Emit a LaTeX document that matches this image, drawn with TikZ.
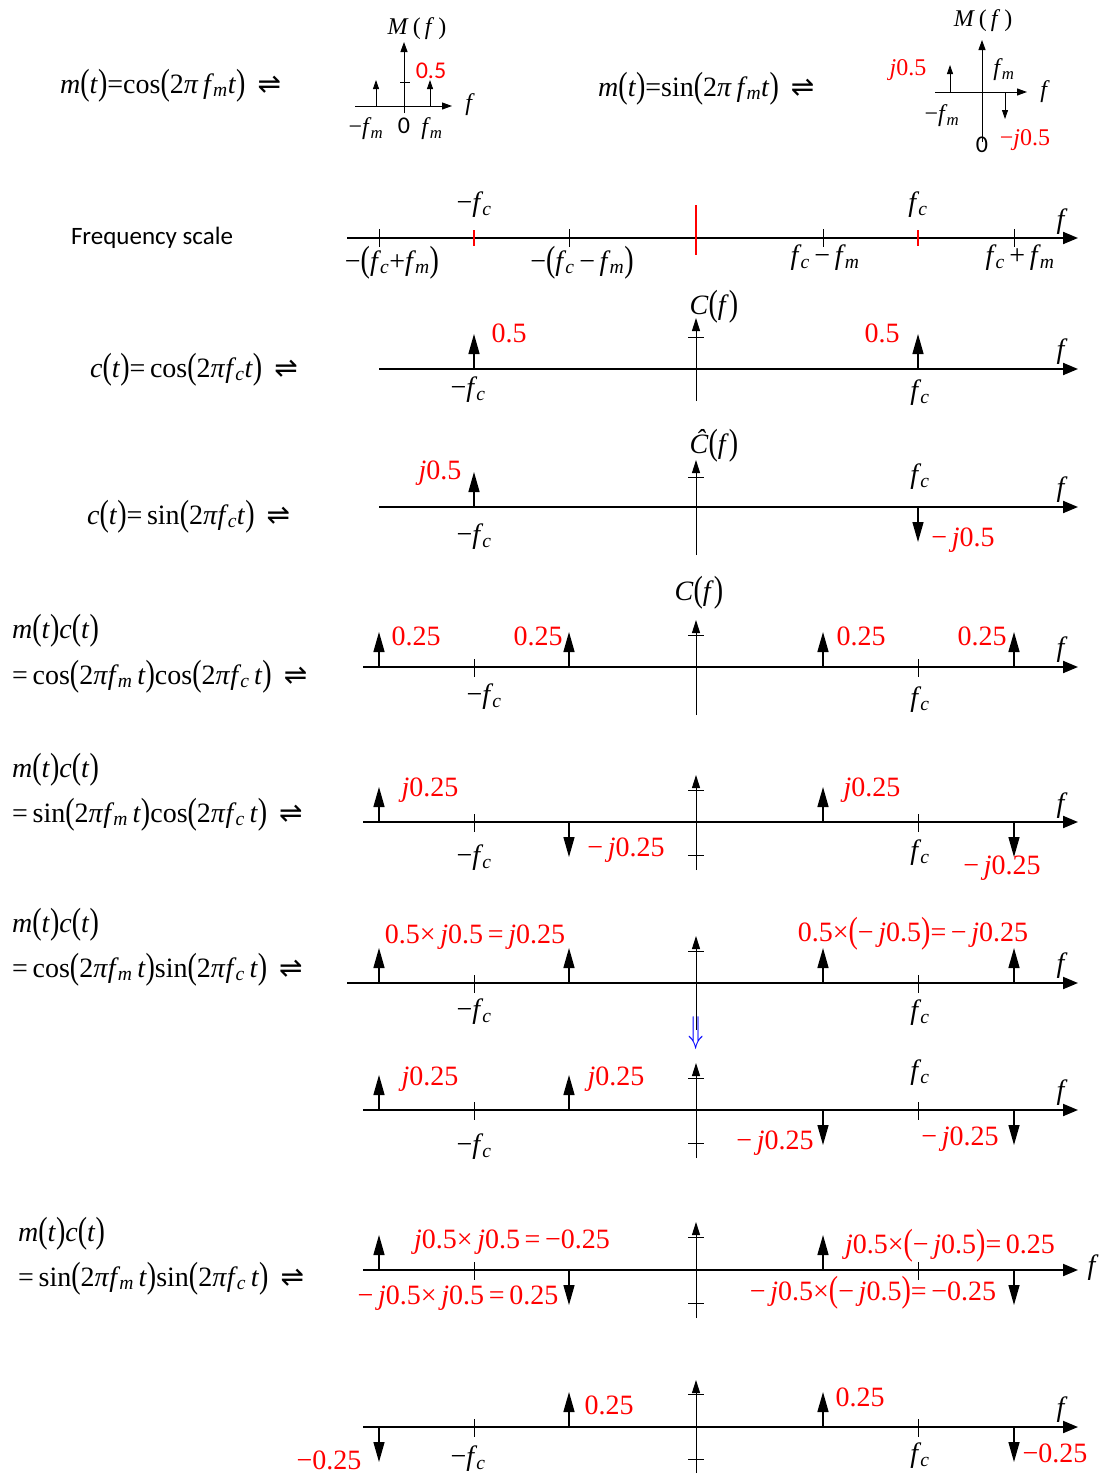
\documentclass[tikz,border=0pt]{standalone}
\usepackage{graphicx}
\usepackage{fontspec}
\setmainfont{Liberation Serif}
\newfontfamily\plainserif{Liberation Serif}
\newfontfamily\sansf{Carlito}
\newfontfamily\dejavu{DejaVu Sans}
\usetikzlibrary{arrows.meta}
\newcommand\V[1]{\textit{#1}}
\newcommand\Sb[1]{\textsubscript{\textit{#1}}}
\newcommand\fc{\V{f}\kern-1pt\Sb{c}}
\newcommand\fmm{\V{f}\kern-1pt\Sb{m}}
\newcommand\Lp{\raisebox{-0.12ex}{\scalebox{1}[1.3]{(}}}
\newcommand\Rp{\raisebox{-0.12ex}{\scalebox{1}[1.3]{)}}}
\newcommand\mi{−}
\newcommand\lrh{\hspace{12pt}{\dejavu ⇌}}
\begin{document}
\begin{tikzpicture}[x=1pt,y=-1pt,
  lab/.style={font=\fontsize{28}{32}\selectfont, inner sep=0pt},
  small/.style={font=\plainserif\fontsize{24}{28}\selectfont, inner sep=0pt},
  rl/.style={lab, text=red},
  axisln/.style={line width=2pt, -{Triangle[length=15pt,width=12pt]}},
  imp/.style={line width=1.4pt, -{Triangle[length=20pt,width=11pt]}},
  vax/.style={line width=1pt, -{Triangle[length=13pt,width=8pt]}},
  sax/.style={line width=1pt, -{Triangle[length=10pt,width=7pt]}},
  simp/.style={line width=0.8pt, -{Triangle[length=9pt,width=6pt]}},
  tk/.style={line width=1pt}
]
\useasboundingbox (0,0) rectangle (1102,1475);

% ---------- top row ----------
\node[lab, anchor=west] (eqA) at (60,86) {\V{m}\Lp\V{t}\Rp=cos\Lp2\V{π}\,\fmm\V{t}\Rp\lrh};
\draw[sax] (355,106) -- (452,106);
\draw[sax] (404,113) -- (404,42);
\draw[tk] (400,82) -- (410,82);
\draw[simp] (376,106) -- (376,80);
\draw[simp] (430,106) -- (430,80);
\node[small] (MA) at (417,29) {\V{M}\,(\,\V{f}\,)};
\node[small, font=\sansf\fontsize{24}{28}\selectfont, text=red] (hA) at (431,71) {0.5};
\node[small] (fA) at (470,105) {\V{f}};
\node[small] (nfmA) at (366,129) {\mi\fmm};
\node[small, font=\sansf\fontsize{24}{28}\selectfont] (zA) at (404,126) {0};
\node[small] (fmA) at (432,129) {\fmm};

\node[lab, anchor=west] (eqB) at (598,89) {\V{m}\Lp\V{t}\Rp=sin\Lp2\V{π}\,\fmm\V{t}\Rp\lrh};
\draw[sax] (935,92) -- (1027,92);
\draw[sax] (982,142) -- (982,40);
\draw[simp] (950,92) -- (950,65);
\draw[simp] (1005,92) -- (1005,119);
\node[small] (MB) at (983,21) {\V{M}\,(\,\V{f}\,)};
\node[small, text=red] (hB) at (908,70) {\V{j}0.5};
\node[small] (fmB) at (1004,70) {\fmm};
\node[small] (fB) at (1045,92) {\V{f}};
\node[small] (nfmB) at (942,116) {\mi\fmm};
\node[small, font=\sansf\fontsize{24}{28}\selectfont] (zB) at (982,145) {0};
\node[small, text=red] (nhB) at (1025,140) {\mi\V{j}0.5};

% ---------- frequency scale ----------
\node[inner sep=0pt, font=\sansf\fontsize{25}{30}\selectfont] (fs) at (152,238) {Frequency scale};
\draw[axisln] (347,238) -- (1078,238);
\foreach \x in {379,569,823,1014} \draw[tk] (\x,229) -- (\x,247);
\foreach \x in {474,918} \draw[line width=1.6pt, red] (\x,230) -- (\x,246);
\draw[line width=2.2pt, red] (696,205) -- (696,255);
\node[lab] (s1) at (474,205) {\mi\fc};
\node[lab] (s2) at (918,205) {\fc};
\node[lab] (s3) at (1062,222) {\V{f}};
\node[lab] (s4) at (392,263) {\mi\Lp\fc+\fmm\Rp};
\node[lab] (s5) at (582,263) {\mi\Lp\fc\,\mi\,\fmm\Rp};
\node[lab] (s6) at (825,258) {\fc\,\mi\,\fmm};
\node[lab] (s7) at (1020,258) {\fc\,+\,\fmm};

% ---------- c(t)=cos ----------
\node[lab, anchor=west] (eqC) at (90,370) {\V{c}\Lp\V{t}\Rp=\,cos\Lp2\V{π}\fc\V{t}\Rp\lrh};
\draw[axisln] (379,369) -- (1078,369);
\draw[vax] (696,401) -- (696,318);
\draw[tk] (688,337) -- (704,337);
\draw[imp] (474,369) -- (474,334);
\draw[imp] (918,369) -- (918,334);
\node[rl] (c1) at (509,333) {0.5};
\node[rl] (c2) at (882,333) {0.5};
\node[lab] (c3) at (714,307) {\V{C}\Lp\V{f}\Rp};
\node[lab] (c4) at (468,390) {\mi\fc};
\node[lab] (c5) at (920,393) {\fc};
\node[lab] (c6) at (1062,352) {\V{f}};

% ---------- c(t)=sin ----------
\node[lab, anchor=west] (eqD) at (87,517) {\V{c}\Lp\V{t}\Rp=\,sin\Lp2\V{π}\fc\V{t}\Rp\lrh};
\draw[axisln] (379,507) -- (1078,507);
\draw[vax] (696,555) -- (696,460);
\draw[tk] (688,477) -- (704,477);
\draw[imp] (474,507) -- (474,472);
\draw[imp] (918,507) -- (918,542);
\node[rl] (d1) at (440,473) {\V{j}0.5};
\node[rl] (d2) at (963,540) {\mi\,\V{j}0.5};
\node[lab] (d3) at (714,446) {\V{\^C}\Lp\V{f}\Rp};
\node[lab] (d4) at (920,477) {\fc};
\node[lab] (d5) at (474,537) {\mi\fc};
\node[lab] (d6) at (1062,490) {\V{f}};

% ---------- cos cos ----------
\node[lab, anchor=west] (eqE1) at (12,631) {\V{m}\Lp\V{t}\Rp\V{c}\Lp\V{t}\Rp};
\node[lab, anchor=west] (eqE2) at (12,677) {=\,cos\Lp2\V{π}\fmm\,\V{t}\Rp cos\Lp2\V{π}\fc\,\V{t}\Rp\lrh};
\draw[axisln] (363,667) -- (1078,667);
\draw[vax] (696,715) -- (696,620);
\draw[tk] (688,635) -- (704,635);
\foreach \x in {474,918} \draw[tk] (\x,659) -- (\x,677);
\foreach \x in {379,569,823,1014} \draw[imp] (\x,667) -- (\x,632);
\node[rl] (e1) at (416,636) {0.25};
\node[rl] (e2) at (538,636) {0.25};
\node[rl] (e3) at (861,636) {0.25};
\node[rl] (e4) at (982,636) {0.25};
\node[lab] (e5) at (699,593) {\V{C}\Lp\V{f}\Rp};
\node[lab] (e6) at (484,697) {\mi\fc};
\node[lab] (e7) at (920,700) {\fc};
\node[lab] (e8) at (1062,650) {\V{f}};

% ---------- sin cos ----------
\node[lab, anchor=west] (eqF1) at (12,770) {\V{m}\Lp\V{t}\Rp\V{c}\Lp\V{t}\Rp};
\node[lab, anchor=west] (eqF2) at (12,815) {=\,sin\Lp2\V{π}\fmm\,\V{t}\Rp cos\Lp2\V{π}\fc\,\V{t}\Rp\lrh};
\draw[axisln] (363,822) -- (1078,822);
\draw[vax] (696,870) -- (696,775);
\draw[tk] (688,790) -- (704,790);
\draw[tk] (688,855) -- (704,855);
\foreach \x in {474,918} \draw[tk] (\x,814) -- (\x,832);
\draw[imp] (379,822) -- (379,787);
\draw[imp] (569,822) -- (569,857);
\draw[imp] (823,822) -- (823,787);
\draw[imp] (1014,822) -- (1014,857);
\node[rl] (f1) at (430,790) {\V{j}0.25};
\node[rl] (f2) at (626,850) {\mi\,\V{j}0.25};
\node[rl] (f3) at (872,790) {\V{j}0.25};
\node[rl] (f4) at (1002,868) {\mi\,\V{j}0.25};
\node[lab] (f5) at (474,858) {\mi\fc};
\node[lab] (f6) at (920,853) {\fc};
\node[lab] (f7) at (1062,806) {\V{f}};

% ---------- cos sin ----------
\node[lab, anchor=west] (eqG1) at (12,925) {\V{m}\Lp\V{t}\Rp\V{c}\Lp\V{t}\Rp};
\node[lab, anchor=west] (eqG2) at (12,970) {=\,cos\Lp2\V{π}\fmm\,\V{t}\Rp sin\Lp2\V{π}\fc\,\V{t}\Rp\lrh};
\draw[axisln] (347,983) -- (1078,983);
\draw[vax] (696,1030) -- (696,936);
\draw[tk] (688,951) -- (704,951);
\foreach \x in {474,918} \draw[tk] (\x,975) -- (\x,993);
\foreach \x in {379,569,823,1014} \draw[imp] (\x,983) -- (\x,948);
\node[rl] (g1) at (475,937) {0.5×\,\V{j}0.5\,=\,\V{j}0.25};
\node[rl] (g2) at (913,934) {0.5×\Lp\mi\,\V{j}0.5\Rp=\,\mi\,\V{j}0.25};
\node[lab] (g3) at (474,1012) {\mi\fc};
\node[lab] (g4) at (920,1013) {\fc};
\node[lab] (g5) at (1062,966) {\V{f}};
\node[inner sep=0pt, text=blue, font=\fontsize{30}{34}\selectfont] (dn) at (696,1033) {\scalebox{1}[1.5]{$\Downarrow$}};

% ---------- result ----------
\draw[axisln] (363,1110) -- (1078,1110);
\draw[vax] (696,1158) -- (696,1063);
\draw[tk] (688,1078) -- (704,1078);
\draw[tk] (688,1143) -- (704,1143);
\foreach \x in {474,918} \draw[tk] (\x,1102) -- (\x,1120);
\draw[imp] (379,1110) -- (379,1075);
\draw[imp] (569,1110) -- (569,1075);
\draw[imp] (823,1110) -- (823,1145);
\draw[imp] (1014,1110) -- (1014,1145);
\node[rl] (h1) at (430,1079) {\V{j}0.25};
\node[rl] (h2) at (616,1079) {\V{j}0.25};
\node[rl] (h3) at (775,1143) {\mi\,\V{j}0.25};
\node[rl] (h4) at (960,1139) {\mi\,\V{j}0.25};
\node[lab] (h5) at (920,1073) {\fc};
\node[lab] (h6) at (474,1147) {\mi\fc};
\node[lab] (h7) at (1062,1093) {\V{f}};

% ---------- sin sin ----------
\node[lab, anchor=west] (eqI1) at (18,1234) {\V{m}\Lp\V{t}\Rp\V{c}\Lp\V{t}\Rp};
\node[lab, anchor=west] (eqI2) at (18,1279) {=\,sin\Lp2\V{π}\fmm\,\V{t}\Rp sin\Lp2\V{π}\fc\,\V{t}\Rp\lrh};
\draw[axisln] (363,1270) -- (1078,1270);
\draw[vax] (696,1318) -- (696,1222);
\draw[tk] (688,1237) -- (704,1237);
\draw[tk] (688,1303) -- (704,1303);
\foreach \x in {474,918} \draw[tk] (\x,1262) -- (\x,1280);
\draw[imp] (379,1270) -- (379,1235);
\draw[imp] (569,1270) -- (569,1305);
\draw[imp] (823,1270) -- (823,1235);
\draw[imp] (1014,1270) -- (1014,1305);
\node[rl] (i1) at (512,1242) {\V{j}0.5×\,\V{j}0.5\,=\,\mi0.25};
\node[rl] (i2) at (950,1246) {\V{j}0.5×\Lp\mi\,\V{j}0.5\Rp=\,0.25};
\node[rl] (i3) at (458,1298) {\mi\,\V{j}0.5×\,\V{j}0.5\,=\,0.25};
\node[rl] (i4) at (873,1293) {\mi\,\V{j}0.5×\Lp\mi\,\V{j}0.5\Rp=\,\mi0.25};
\node[lab] (i5) at (1093,1268) {\V{f}};

% ---------- final ----------
\draw[axisln] (363,1427) -- (1078,1427);
\draw[vax] (696,1473) -- (696,1380);
\draw[tk] (688,1394) -- (704,1394);
\draw[tk] (688,1459) -- (704,1459);
\foreach \x in {474,918} \draw[tk] (\x,1419) -- (\x,1437);
\draw[imp] (379,1427) -- (379,1462);
\draw[imp] (569,1427) -- (569,1392);
\draw[imp] (823,1427) -- (823,1392);
\draw[imp] (1014,1427) -- (1014,1462);
\node[rl] (j1) at (609,1405) {0.25};
\node[rl] (j2) at (860,1397) {0.25};
\node[rl] (j3) at (329,1460) {\mi0.25};
\node[rl] (j4) at (1055,1453) {\mi0.25};
\node[lab] (j5) at (468,1459) {\mi\fc};
\node[lab] (j6) at (920,1456) {\fc};
\node[lab] (j7) at (1062,1410) {\V{f}};
\end{tikzpicture}
\end{document}
